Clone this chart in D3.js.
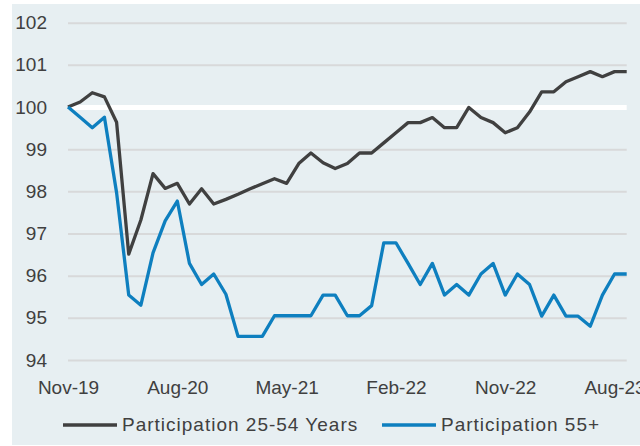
<!DOCTYPE html>
<html>
<head>
<meta charset="utf-8">
<script src="https://cdn.jsdelivr.net/npm/d3@7"></script>
<style>
	body { margin: 0; background: #ffffff; }
	svg text { font-family: "Liberation Sans", Arial, sans-serif; fill: #404040; }
</style>
</head>
<body>
<div id="graph"></div>
<script>
//Javascript Document

//monthly categories, Nov-19 to Sep-23
var months = ["Nov-19","Dec-19","Jan-20","Feb-20","Mar-20","Apr-20","May-20","Jun-20","Jul-20","Aug-20",
	"Sep-20","Oct-20","Nov-20","Dec-20","Jan-21","Feb-21","Mar-21","Apr-21","May-21","Jun-21",
	"Jul-21","Aug-21","Sep-21","Oct-21","Nov-21","Dec-21","Jan-22","Feb-22","Mar-22","Apr-22",
	"May-22","Jun-22","Jul-22","Aug-22","Sep-22","Oct-22","Nov-22","Dec-22","Jan-23","Feb-23",
	"Mar-23","Apr-23","May-23","Jun-23","Jul-23","Aug-23","Sep-23"];

//indexed participation, Nov-19 = 100
var prime = [100.00,100.12,100.34,100.24,99.64,96.51,97.32,98.42,98.07,98.19,
	97.70,98.06,97.70,97.81,97.93,98.06,98.18,98.30,98.19,98.66,
	98.91,98.68,98.54,98.66,98.91,98.91,99.15,99.39,99.63,99.63,
	99.75,99.51,99.51,99.99,99.75,99.63,99.39,99.51,99.88,100.36,
	100.36,100.60,100.72,100.84,100.72,100.84,100.84];

var older = [100.00,99.76,99.51,99.76,97.97,95.54,95.30,96.54,97.30,97.77,
	96.29,95.79,96.04,95.56,94.56,94.56,94.56,95.05,95.05,95.05,
	95.05,95.54,95.54,95.05,95.05,95.29,96.78,96.78,96.29,95.79,
	96.29,95.54,95.79,95.54,96.04,96.29,95.54,96.04,95.79,95.04,
	95.54,95.04,95.04,94.80,95.54,96.04,96.04];

var xTickLabels = ["Nov-19","Aug-20","May-21","Feb-22","Nov-22","Aug-23"];
var yTicks = [94,95,96,97,98,99,100,101,102];

var seriesNames = ["Participation 25-54 Years","Participation 55+"];
var seriesColors = ["#404040","#0e7fbf"];

(function(){
	"use strict";

	var width = 640;
	var height = 446;
	var left = 68, right = 626.7, top = 22.7, bottom = 360;

	var canvas = d3.select("#graph").append("svg")
		.attr("width", width)
		.attr("height", height);

	//panel background
	canvas.append("rect")
		.attr("x", 12)
		.attr("y", 4)
		.attr("width", width - 12)
		.attr("height", 441)
		.attr("fill", "#e7eff2");

	var xScale = d3.scalePoint()
		.domain(months)
		.range([left, right]);

	var yScale = d3.scaleLinear()
		.domain([94, 102])
		.range([bottom, top]);

	//gridlines, the 100 line is white and thick
	var grid = canvas.append("g")
		.attr("transform", "translate(" + left + ",0)")
		.call(d3.axisLeft(yScale).tickValues(yTicks).tickSize(-(right - left)).tickFormat(""));
	grid.select(".domain").remove();
	grid.selectAll(".tick line")
		.attr("stroke", function(d){ return d == 100 ? "#ffffff" : "#d8d9da"; })
		.attr("stroke-width", function(d){ return d == 100 ? 5 : 2; });

	//y labels
	var yAxis = canvas.append("g")
		.attr("transform", "translate(" + left + ",0)")
		.call(d3.axisLeft(yScale).tickValues(yTicks).tickSize(0).tickPadding(21));
	yAxis.select(".domain").remove();
	yAxis.selectAll("text").style("font-size", "19px");

	//x labels (last one runs off the edge like the original)
	var xAxis = canvas.append("g")
		.attr("transform", "translate(0," + bottom + ")")
		.call(d3.axisBottom(xScale).tickValues(xTickLabels).tickSize(0).tickPadding(21));
	xAxis.select(".domain").remove();
	xAxis.selectAll("text").style("font-size", "19px");

	var line = d3.line()
		.x(function(d, i){ return xScale(months[i]); })
		.y(function(d){ return yScale(d); });

	//the two series
	canvas.selectAll("path.series")
		.data([prime, older])
		.enter()
		.append("path")
		.attr("class", "series")
		.attr("d", line)
		.attr("fill", "none")
		.attr("stroke", function(d, i){ return seriesColors[i]; })
		.attr("stroke-width", 3.3)
		.attr("stroke-linejoin", "round");

	//legend
	var legendX = [63, 382];
	var legend = canvas.selectAll("g.legend")
		.data(seriesNames)
		.enter()
		.append("g")
		.attr("class", "legend")
		.attr("transform", function(d, i){ return "translate(" + legendX[i] + ",425)"; });

	legend.append("line")
		.attr("x1", 0)
		.attr("x2", 54)
		.attr("stroke", function(d, i){ return seriesColors[i]; })
		.attr("stroke-width", 3.3);

	legend.append("text")
		.attr("x", 59)
		.attr("y", 6)
		.style("font-size", "19px")
		.style("letter-spacing", "1px")
		.text(function(d){ return d; });

})();
</script>
</body>
</html>
